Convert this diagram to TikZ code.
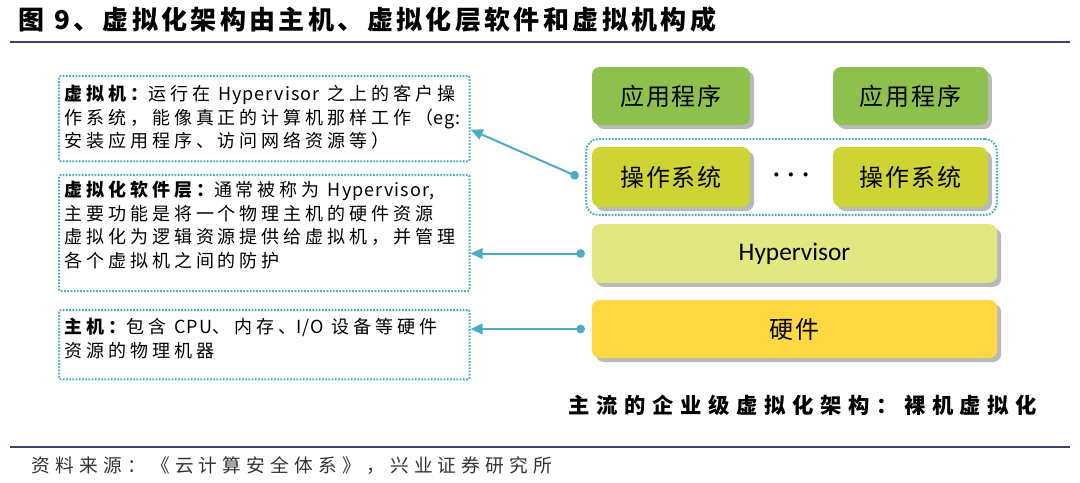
\documentclass[tikz,border=0pt]{standalone}
\usepackage{fontspec}
\usepackage{tikz}
\usepackage{xcolor}
\usetikzlibrary{calc, arrows.meta, shadows, positioning}

\newfontfamily\cjk{Noto Sans CJK SC}
\newfontfamily\calibrifont{Carlito}
\newcommand\lat[1]{{\addfontfeature{LetterSpace=6}#1}}

\definecolor{linkblue}{RGB}{75,172,198}
\definecolor{appgreen}{RGB}{141,192,76}
\definecolor{osgreen}{RGB}{205,212,52}
\definecolor{hypyellow}{RGB}{226,231,130}
\definecolor{hwyellow}{RGB}{253,216,66}
\definecolor{rulenavy}{RGB}{62,64,112}

\begin{document}
\begin{tikzpicture}[x=0.75pt, y=-0.75pt, >=Stealth,
    notebox/.style={draw=linkblue, line width=1.5pt, dash pattern=on 1.3pt off 1.1pt,
      rounded corners=1.5pt, minimum width=308pt, inner sep=0pt},
    notetext/.style={anchor=north west, align=left, inner sep=0pt,
      font=\cjk\fontsize{13.5}{17.6}\selectfont\addfontfeature{LetterSpace=22}},
    layer/.style={rounded corners=6pt, inner sep=0pt,
      drop shadow={shadow xshift=3pt, shadow yshift=-3pt, fill=black!55},
      font=\cjk\fontsize{18}{18}\selectfont\addfontfeature{LetterSpace=8}},
    link/.style={linkblue, line width=1.5pt, {Circle[length=6.5pt]}-{Triangle[length=9pt, width=8pt]}},
    navyrule/.style={rulenavy, line width=2.2pt}]
  \useasboundingbox (0,0) rectangle (1080,482);

  % ---- Title ----
  \node[anchor=west, font=\cjk\bfseries\fontsize{19.5}{19.5}\selectfont\addfontfeature{LetterSpace=13}] (title) at (14,20)
    {图 9、虚拟化架构由主机、虚拟化层软件和虚拟机构成};
  \draw[navyrule] (10,42) -- (1070,42);

  % ---- Right: layered stack ----
  \node[layer, fill=appgreen, minimum width=118.5pt, minimum height=43.5pt] (app1) at (671,96) {应用程序};
  \node[layer, fill=appgreen, minimum width=116pt, minimum height=43.5pt] (app2) at (910.5,96) {应用程序};
  \node[layer, fill=osgreen, minimum width=118.5pt, minimum height=45pt] (os1) at (671,177) {操作系统};
  \node[layer, fill=osgreen, minimum width=116pt, minimum height=45pt] (os2) at (910.5,177) {操作系统};
  \node[font=\cjk\bfseries\fontsize{11}{11}\selectfont] (ellipsis) at (791,177) {···};
  \node[draw=linkblue, line width=1.5pt, dash pattern=on 1.3pt off 1.1pt, rounded corners=9pt,
    minimum width=308pt, minimum height=57pt] (osgroup) at (791.5,177) {};
  \node[layer, fill=hypyellow, minimum width=304pt, minimum height=44pt,
    font=\calibrifont\fontsize{19}{19}\selectfont] (hyp) at (794.5,253.5) {Hypervisor};
  \node[layer, fill=hwyellow, minimum width=304pt, minimum height=43.5pt] (hw) at (794.5,329) {硬件};
  \node[anchor=west, font=\cjk\bfseries\fontsize{16}{16}\selectfont\addfontfeature{LetterSpace=31}] (caption) at (564,405)
    {主流的企业级虚拟化架构：裸机虚拟化};

  % ---- Left: notes ----
  \node[notebox, minimum height=64pt, anchor=north west] (vmbox) at (58,75) {};
  \node[notetext] (vmtext) at (64,85)
    {{\bfseries 虚拟机：}运行在 \lat{Hypervisor} 之上的客户操\\
     作系统，能像真正的计算机那样工作（\lat{eg:}\\
     安装应用程序、访问网络资源等）};
  \node[notebox, minimum height=87pt, anchor=north west] (hvbox) at (58,174) {};
  \node[notetext] (hvtext) at (64,181)
    {{\bfseries 虚拟化软件层：}通常被称为 \lat{Hypervisor,}\\
     主要功能是将一个物理主机的硬件资源\\
     虚拟化为逻辑资源提供给虚拟机，并管理\\
     各个虚拟机之间的防护};
  \node[notebox, minimum height=52pt, anchor=north west] (hostbox) at (58,309) {};
  \node[notetext] (hosttext) at (64,318)
    {{\bfseries 主机：}包含 \lat{CPU}、内存、\lat{I/O} 设备等硬件\\
     资源的物理机器};

  % ---- Links ----
  \draw[link] ([xshift=-5pt]osgroup.west) -- ($(vmbox.east)+(0,11)$);
  \draw[link] ([xshift=-5pt]hyp.west) -- (hyp.west -| hvbox.east);
  \draw[link] ([xshift=-5pt]hw.west) -- (hw.west -| hostbox.east);

  % ---- Source ----
  \draw[navyrule] (10,447) -- (1070,447);
  \node[anchor=west, text=black!80, font=\cjk\fontsize{14}{14}\selectfont\addfontfeature{LetterSpace=28}] (source) at (27,466)
    {资料来源：《云计算安全体系》，兴业证券研究所};
\end{tikzpicture}
\end{document}
